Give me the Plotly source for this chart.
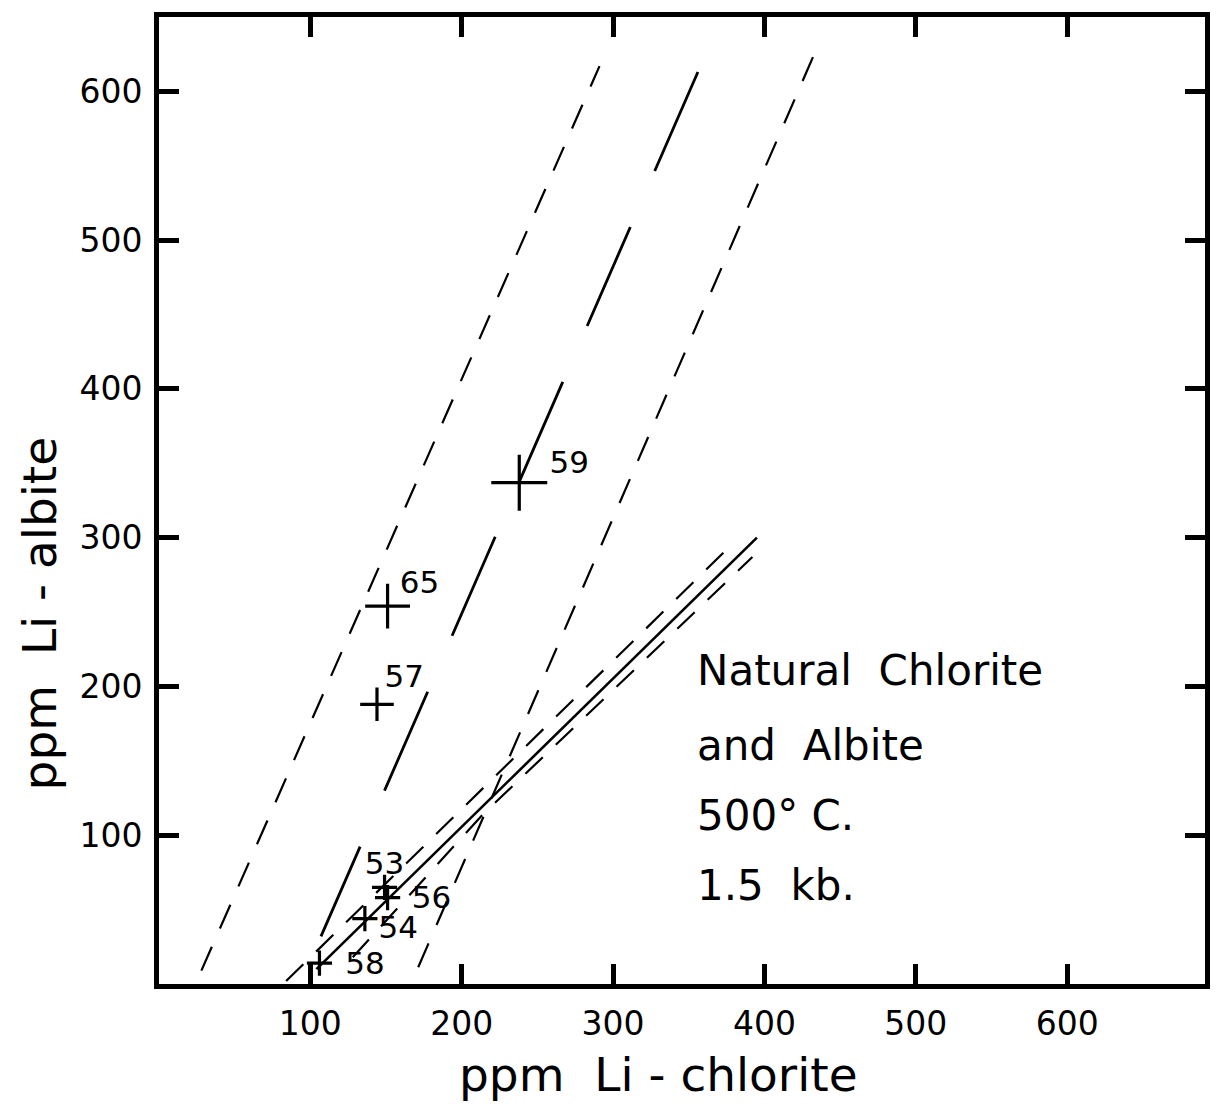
import plotly.graph_objects as go

# Li partition between chlorite and albite (ppm), 500 °C, 1.5 kb
sample_ids = ["59", "65", "57", "53", "56", "54", "58"]
li_chlorite = [238, 151, 144, 149, 151, 136, 106]
li_albite = [337, 254, 188, 65, 58, 44, 14]
cross_size = [40, 32, 24, 18, 18, 18, 18]
label_x = [258, 159, 149, 136, 167, 145, 123]
label_y = [349, 268, 205, 79, 56, 36, 12]

# Envelope and trend lines of the steep natural-sample field
left_env_x = [28, 291]
left_env_y = [9, 617]
mid_trend_x = [356, 107]
mid_trend_y = [613, 32]
right_env_x = [432, 169]
right_env_y = [623, 6]

# Shallow trend with its bounding lines
low_trend_x = [104, 395]
low_trend_y = [10, 300]
low_upper_x = [84, 380]
low_upper_y = [2, 297]
low_lower_x = [128, 214, 392]
low_lower_y = [18, 114, 287]

# Caption lines
caption_lines = ["Natural  Chlorite", "and  Albite", "500° C.", "1.5  kb."]
caption_y = [211, 160, 113, 66]
caption_x = 354

x_ticks = [100, 200, 300, 400, 500, 600]
y_ticks = [100, 200, 300, 400, 500, 600]

FONT = "DejaVu Sans"
INK = "black"

fig = go.Figure()


def add_line(xs, ys, dash, width):
    fig.add_trace(go.Scatter(
        x=xs, y=ys, mode="lines",
        line=dict(color=INK, width=width, dash=dash),
        hoverinfo="skip", showlegend=False,
    ))


add_line(left_env_x, left_env_y, "26px,20px", 2.2)
add_line(mid_trend_x, mid_trend_y, "108px,61px", 2.8)
add_line(right_env_x, right_env_y, "26px,20px", 2.2)
add_line(low_trend_x, low_trend_y, "solid", 2.6)
add_line(low_upper_x, low_upper_y, "24px,18px", 2.2)
add_line(low_lower_x, low_lower_y, "24px,18px", 2.2)

# Sample points
fig.add_trace(go.Scatter(
    x=li_chlorite, y=li_albite, mode="markers",
    marker=dict(symbol="cross-thin", size=cross_size, color=INK,
                opacity=1, line=dict(color=INK, width=3.2)),
    showlegend=False,
))

# Sample labels
fig.add_trace(go.Scatter(
    x=label_x, y=label_y, mode="text", text=sample_ids,
    textposition="middle right",
    textfont=dict(family=FONT, size=31, color=INK),
    showlegend=False, hoverinfo="skip",
))

for txt, yy in zip(caption_lines, caption_y):
    fig.add_annotation(
        x=caption_x, y=yy, xref="x", yref="y", text=txt,
        showarrow=False, xanchor="left", yanchor="middle",
        font=dict(family=FONT, size=42, color=INK),
    )

axis_common = dict(
    showline=True, linewidth=5, linecolor=INK, mirror="ticks",
    ticks="inside", ticklen=20, tickwidth=5, tickcolor=INK,
    showgrid=False, zeroline=False,
    tickfont=dict(family=FONT, size=33, color=INK),
)

fig.update_xaxes(range=[0, 691], tickvals=x_ticks, ticklabelstandoff=6,
                 **axis_common)
fig.update_yaxes(range=[0, 650], tickvals=y_ticks, ticklabelstandoff=5,
                 **axis_common)

fig.add_annotation(
    x=0.478, y=-0.094, xref="paper", yref="paper",
    text="ppm  Li - chlorite", showarrow=False,
    xanchor="center", yanchor="middle",
    font=dict(family=FONT, size=47, color=INK),
)
fig.add_annotation(
    x=-0.114, y=0.383, xref="paper", yref="paper",
    text="ppm  Li - albite", showarrow=False, textangle=-90,
    xanchor="center", yanchor="middle",
    font=dict(family=FONT, size=47, color=INK),
)

fig.update_layout(
    width=1222, height=1112,
    margin=dict(l=159, r=16, t=13, b=128),
    paper_bgcolor="white", plot_bgcolor="white",
    font=dict(family=FONT, color=INK),
)

fig.write_html("out.html")
